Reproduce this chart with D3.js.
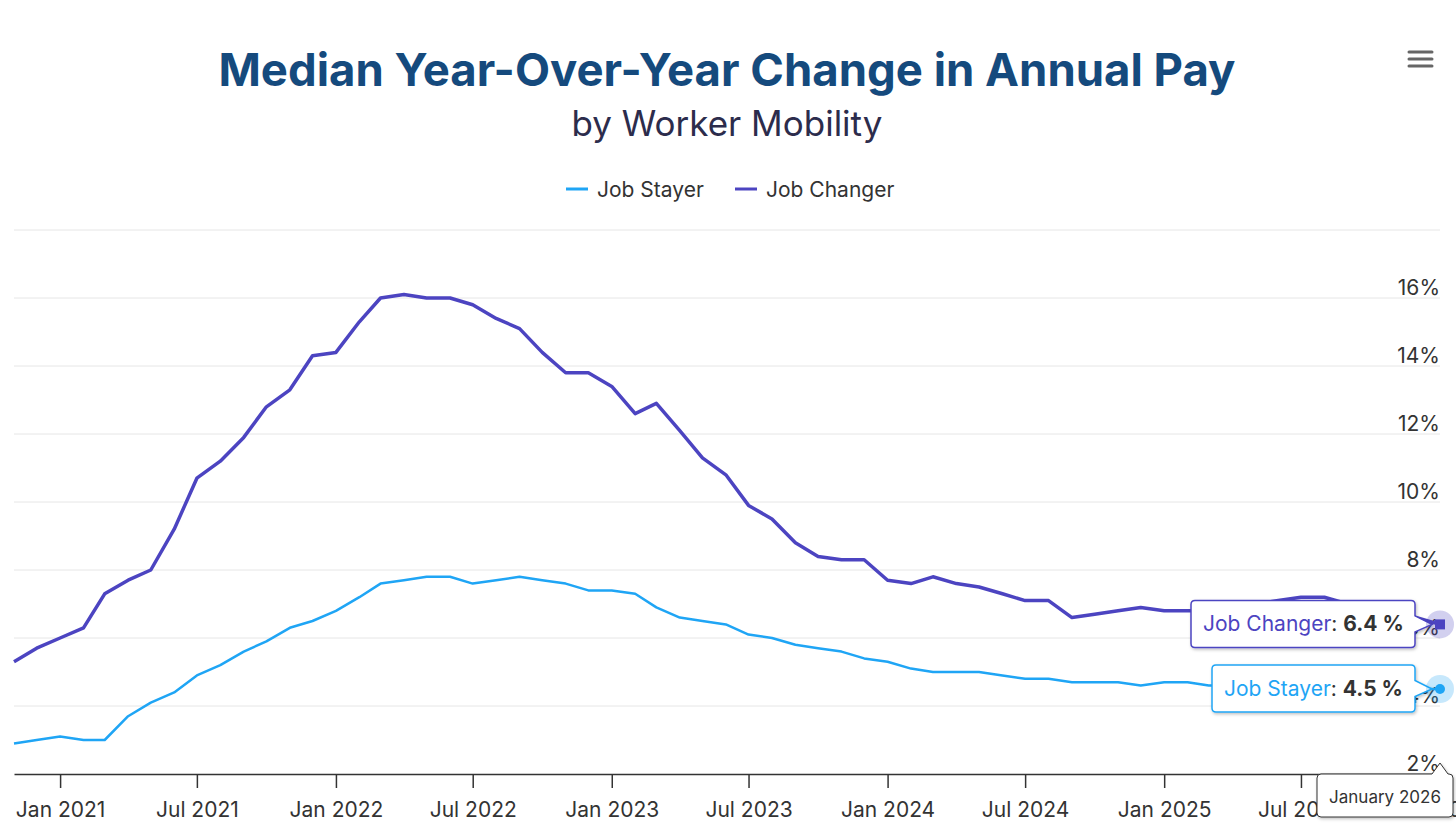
<!DOCTYPE html>
<html>
<head>
<meta charset="utf-8">
<script src="https://cdn.jsdelivr.net/npm/d3@7"></script>
<style>
  body { margin: 0; background: #fff; }
  svg { font-family: Inter, "Noto Sans", sans-serif; }
</style>
</head>
<body>
<div id="chart"></div>
<script>
// monthly, Nov 2020 .. Jan 2026
const months = d3.timeMonth.range(new Date(2020, 10, 1), new Date(2026, 0, 2));

const jobStayer = [
  2.9, 3.0,
  3.1, 3.0, 3.0, 3.7, 4.1, 4.4, 4.9, 5.2, 5.6, 5.9, 6.3, 6.5,
  6.8, 7.2, 7.6, 7.7, 7.8, 7.8, 7.6, 7.7, 7.8, 7.7, 7.6, 7.4,
  7.4, 7.3, 6.9, 6.6, 6.5, 6.4, 6.1, 6.0, 5.8, 5.7, 5.6, 5.4,
  5.3, 5.1, 5.0, 5.0, 5.0, 4.9, 4.8, 4.8, 4.7, 4.7, 4.7, 4.6,
  4.7, 4.7, 4.6, 4.6, 4.6, 4.6, 4.6, 4.5, 4.5, 4.5, 4.5, 4.5,
  4.5
];

const jobChanger = [
  5.3, 5.7,
  6.0, 6.3, 7.3, 7.7, 8.0, 9.2, 10.7, 11.2, 11.9, 12.8, 13.3, 14.3,
  14.4, 15.3, 16.0, 16.1, 16.0, 16.0, 15.8, 15.4, 15.1, 14.4, 13.8, 13.8,
  13.4, 12.6, 12.9, 12.1, 11.3, 10.8, 9.9, 9.5, 8.8, 8.4, 8.3, 8.3,
  7.7, 7.6, 7.8, 7.6, 7.5, 7.3, 7.1, 7.1, 6.6, 6.7, 6.8, 6.9,
  6.8, 6.8, 6.8, 6.9, 7.0, 7.1, 7.2, 7.2, 7.0, 6.9, 6.8, 6.6,
  6.4
];

const yTicks = [2, 4, 6, 8, 10, 12, 14, 16, 18];

const width = 1456, height = 839;
const plotLeft = 14, plotRight = 1440, plotTop = 230, plotBottom = 774;
const stayerColor = "#1fa5f5", changerColor = "#4c44c1";
const labelSize = '21px';

const svg = d3.select('#chart').append('svg')
  .attr('width', width)
  .attr('height', height);

const defs = svg.append('defs');
const shadow = defs.append('filter').attr('id', 'shadow')
  .attr('x', '-20%').attr('y', '-30%').attr('width', '140%').attr('height', '170%');
shadow.append('feDropShadow')
  .attr('dx', 1).attr('dy', 1.5).attr('stdDeviation', 1.5)
  .attr('flood-color', '#000').attr('flood-opacity', 0.25);

const x = d3.scaleTime()
  .domain([months[0], months[months.length - 1]])
  .range([plotLeft, plotRight]);

const y = d3.scaleLinear()
  .domain([2, 18])
  .range([plotBottom, plotTop]);

// title
svg.append('text')
  .attr('x', 727).attr('y', 86)
  .attr('text-anchor', 'middle')
  .style('font-size', '45.5px').style('font-weight', 700)
  .style('fill', '#154a7d')
  .text('Median Year-Over-Year Change in Annual Pay');

svg.append('text')
  .attr('x', 727).attr('y', 136)
  .attr('text-anchor', 'middle')
  .style('font-size', '35px')
  .style('fill', '#2c2c4c')
  .text('by Worker Mobility');

// menu icon
[52, 59, 66].forEach(yy => {
  svg.append('line')
    .attr('x1', 1409).attr('x2', 1432).attr('y1', yy).attr('y2', yy)
    .attr('stroke', '#666').attr('stroke-width', 3).attr('stroke-linecap', 'round');
});

// legend
const legendItems = [
  { label: 'Job Stayer', color: stayerColor, x: 566 },
  { label: 'Job Changer', color: changerColor, x: 735 }
];
legendItems.forEach(item => {
  svg.append('line')
    .attr('x1', item.x).attr('x2', item.x + 22)
    .attr('y1', 189).attr('y2', 189)
    .attr('stroke', item.color).attr('stroke-width', 3);
  svg.append('text')
    .attr('x', item.x + 31).attr('y', 196.5)
    .style('font-size', labelSize).style('fill', '#333')
    .text(item.label);
});

// gridlines
svg.append('g')
  .selectAll('line')
  .data(yTicks.filter(d => d > 2))
  .enter().append('line')
  .attr('x1', plotLeft).attr('x2', plotRight)
  .attr('y1', d => y(d)).attr('y2', d => y(d))
  .attr('stroke', '#e6e6e6').attr('stroke-width', 1);

// y labels (right side, above the lines)
svg.append('g')
  .selectAll('text')
  .data(yTicks.filter(d => d < 18))
  .enter().append('text')
  .attr('x', plotRight).attr('y', d => y(d) - 3)
  .attr('text-anchor', 'end')
  .style('font-size', labelSize).style('fill', '#333')
  .text(d => d + '%');

// x axis
const xAxis = d3.axisBottom(x)
  .ticks(d3.timeMonth.every(6))
  .tickFormat(d3.timeFormat('%b %Y'))
  .tickSize(14)
  .tickPadding(14)
  .tickSizeOuter(0);

const gx = svg.append('g')
  .attr('transform', `translate(0,${plotBottom})`)
  .call(xAxis);
gx.select('.domain').attr('stroke', '#333').attr('stroke-width', 1.5);
gx.selectAll('.tick line').attr('stroke', '#333').attr('stroke-width', 1.5);
gx.selectAll('.tick text')
  .style('font-size', labelSize).style('fill', '#333')
  .style('font-family', 'Inter, "Noto Sans", sans-serif');

// lines
const line = d3.line()
  .x((d, i) => x(months[i]))
  .y(d => y(d));

svg.append('path')
  .datum(jobStayer)
  .attr('d', line)
  .attr('fill', 'none')
  .attr('stroke', stayerColor)
  .attr('stroke-width', 2.5)
  .attr('stroke-linejoin', 'round');

svg.append('path')
  .datum(jobChanger)
  .attr('d', line)
  .attr('fill', 'none')
  .attr('stroke', changerColor)
  .attr('stroke-width', 3.5)
  .attr('stroke-linejoin', 'round');

// hover state at last point
const last = months.length - 1;
const px = x(months[last]);
const pyC = y(jobChanger[last]);
const pyS = y(jobStayer[last]);

// tooltip with callout on the right side
function calloutRight(bx, by, bw, bh, tipX, tipY) {
  const r = 4, ax = bx + bw, my = by + bh / 2;
  return `M${bx + r},${by} H${ax - r} Q${ax},${by} ${ax},${by + r}
    V${my - 8} L${tipX},${tipY} L${ax},${my + 8}
    V${by + bh - r} Q${ax},${by + bh} ${ax - r},${by + bh}
    H${bx + r} Q${bx},${by + bh} ${bx},${by + bh - r}
    V${by + r} Q${bx},${by} ${bx + r},${by} Z`;
}

function seriesTooltip(name, value, color, bx, by, bw, py) {
  const g = svg.append('g');
  g.append('path')
    .attr('d', calloutRight(bx, by, bw, 47, px - 8, py))
    .attr('fill', '#fff')
    .attr('stroke', color).attr('stroke-width', 1.5)
    .attr('filter', 'url(#shadow)');
  const t = g.append('text')
    .attr('x', bx + 12).attr('y', by + 31)
    .style('font-size', labelSize).style('fill', '#333');
  t.append('tspan').style('fill', color).text(name);
  t.append('tspan').text(': ');
  t.append('tspan').style('font-weight', 700).text(value.toFixed(1) + ' %');
}

seriesTooltip('Job Changer', jobChanger[last], changerColor, 1191, pyC - 24, 224, pyC);
seriesTooltip('Job Stayer', jobStayer[last], stayerColor, 1212, pyS - 24, 203, pyS);

// markers with halo
svg.append('circle').attr('cx', px).attr('cy', pyC).attr('r', 14)
  .attr('fill', changerColor).attr('fill-opacity', 0.25);
svg.append('rect').attr('x', px - 5).attr('y', pyC - 5).attr('width', 10).attr('height', 10)
  .attr('fill', changerColor);
svg.append('circle').attr('cx', px).attr('cy', pyS).attr('r', 14)
  .attr('fill', stayerColor).attr('fill-opacity', 0.25);
svg.append('circle').attr('cx', px).attr('cy', pyS).attr('r', 5)
  .attr('fill', stayerColor);

// date tooltip below axis
const dbx = 1317, dby = 774, dbw = 136, dbh = 43;
const dateG = svg.append('g');
dateG.append('path')
  .attr('d', `M${dbx + 4},${dby} H${px - 8} L${px},${plotBottom - 11} L${px + 8},${dby}
    H${dbx + dbw - 4} Q${dbx + dbw},${dby} ${dbx + dbw},${dby + 4}
    V${dby + dbh - 4} Q${dbx + dbw},${dby + dbh} ${dbx + dbw - 4},${dby + dbh}
    H${dbx + 4} Q${dbx},${dby + dbh} ${dbx},${dby + dbh - 4}
    V${dby + 4} Q${dbx},${dby} ${dbx + 4},${dby} Z`)
  .attr('fill', '#fff')
  .attr('stroke', '#333').attr('stroke-width', 1)
  .attr('filter', 'url(#shadow)');
dateG.append('text')
  .attr('x', dbx + dbw / 2).attr('y', dby + 29)
  .attr('text-anchor', 'middle')
  .style('font-size', '17px').style('fill', '#333')
  .text(d3.timeFormat('%B %Y')(months[last]));
</script>
</body>
</html>
